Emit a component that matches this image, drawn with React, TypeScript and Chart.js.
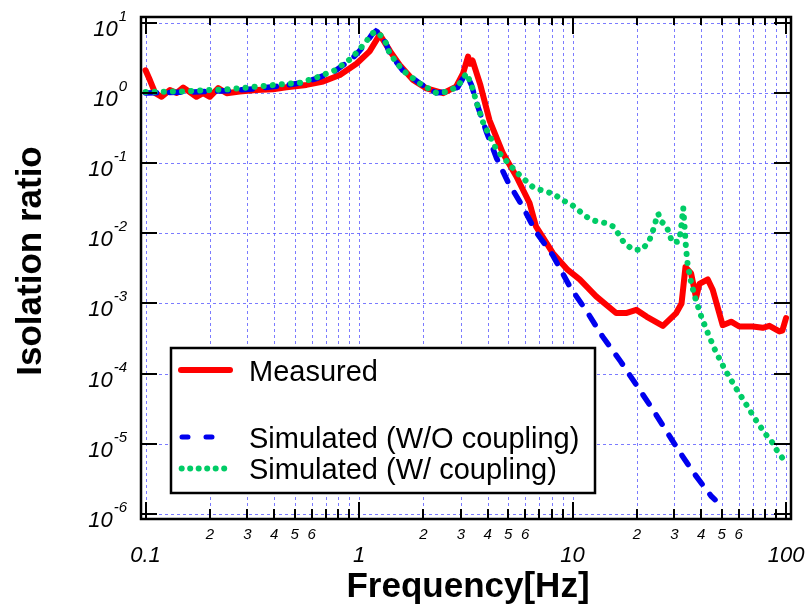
import React, { useEffect, useRef } from "react";
import { Chart, registerables } from "chart.js";

Chart.register(...registerables);

// ---- Data ----
const MEAS_FREQ = [0.1, 0.105, 0.111, 0.119, 0.13, 0.14, 0.15, 0.161, 0.173, 0.186, 0.2, 0.219, 0.24, 0.276, 0.331, 0.396, 0.457, 0.567, 0.679, 0.813, 0.972, 1.12, 1.2, 1.25, 1.3, 1.4, 1.55, 1.79, 2.07, 2.48, 2.85, 3.07, 3.24, 3.3, 3.4, 3.5, 3.7, 4.08, 4.72, 5.45, 6.29, 6.75, 8.09, 9.5, 10.8, 12.9, 16.0, 17.8, 19.9, 22.2, 26.5, 30.6, 32.4, 33.8, 35.9, 37.9, 39.3, 43.0, 45.4, 50.5, 55.3, 60.4, 69.8, 77.8, 83.6, 93.1, 96.1, 100];
const MEAS_VAL = [2.1, 1.5, 0.99, 0.88, 1.1, 1.0, 1.19, 1.03, 0.88, 0.99, 0.88, 1.17, 0.99, 1.05, 1.1, 1.13, 1.2, 1.3, 1.45, 1.8, 2.6, 3.9, 5.5, 6.8, 5.6, 3.9, 2.5, 1.53, 1.16, 0.99, 1.23, 1.9, 3.3, 2.6, 2.9, 2.2, 1.3, 0.41, 0.138, 0.065, 0.027, 0.0124, 0.0052, 0.003, 0.0022, 0.00126, 0.00073, 0.00073, 0.00081, 0.00065, 0.00048, 0.00073, 0.001, 0.0033, 0.0027, 0.0012, 0.0019, 0.0022, 0.00155, 0.00049, 0.00055, 0.00047, 0.00047, 0.00045, 0.00048, 0.0004, 0.00041, 0.00062];

const WO_FREQ = [0.1, 0.15, 0.2, 0.25, 0.33, 0.44, 0.53, 0.63, 0.77, 0.92, 1.0, 1.08, 1.15, 1.2, 1.26, 1.34, 1.39, 1.6, 1.92, 2.3, 2.55, 2.9, 3.1, 3.2, 3.36, 3.6, 3.95, 4.41, 4.98, 5.84, 6.73, 8.06, 9.8, 11.8, 13.8, 16.8, 23.9, 30.6, 36.6, 44.6, 46.5];
const WO_VAL = [1.0, 1.02, 1.05, 1.08, 1.15, 1.27, 1.38, 1.6, 2.05, 3.0, 3.9, 5.2, 6.8, 7.6, 7.0, 5.0, 3.7, 2.1, 1.37, 1.0, 1.03, 1.2, 1.7, 1.8, 1.3, 0.64, 0.28, 0.117, 0.054, 0.024, 0.0105, 0.0049, 0.00166, 0.00073, 0.00034, 0.000149, 3.0e-5, 9.1e-6, 4.0e-6, 1.8e-6, 1.6e-6];

const W_FREQ = [0.1, 0.15, 0.2, 0.25, 0.33, 0.44, 0.53, 0.63, 0.77, 0.92, 1.0, 1.08, 1.15, 1.2, 1.26, 1.34, 1.39, 1.6, 1.92, 2.3, 2.55, 2.9, 3.1, 3.2, 3.4, 3.6, 3.82, 4.41, 5.17, 5.63, 6.6, 7.4, 8.2, 8.9, 10.0, 11.0, 12.0, 13.1, 14.3, 15.6, 17.5, 19.3, 21.1, 22.8, 24.3, 24.7, 25.2, 26.1, 27.5, 28.5, 29.3, 31.3, 32.0, 32.5, 33.0, 33.6, 34.0, 34.6, 35.9, 37.7, 40.1, 43.0, 46.6, 51.3, 57.2, 64.2, 72.1, 79.8, 85.8, 91.0, 97.2, 100];
const W_VAL = [1.03, 1.05, 1.1, 1.13, 1.23, 1.33, 1.4, 1.65, 2.1, 3.1, 4.1, 5.4, 7.0, 7.5, 6.6, 5.1, 3.66, 2.1, 1.37, 1.0, 1.03, 1.23, 1.7, 1.9, 1.16, 0.64, 0.37, 0.154, 0.089, 0.068, 0.044, 0.04, 0.036, 0.03, 0.025, 0.0197, 0.016, 0.0146, 0.014, 0.0124, 0.0072, 0.0058, 0.0058, 0.0076, 0.013, 0.0167, 0.019, 0.0146, 0.0128, 0.0095, 0.0074, 0.0076, 0.01, 0.015, 0.023, 0.0105, 0.0061, 0.0036, 0.002, 0.00115, 0.00065, 0.00038, 0.000214, 0.00012, 6.8e-5, 3.9e-5, 2.2e-5, 1.4e-5, 1.07e-5, 7.9e-6, 6.0e-6, 5.4e-6];

const SERIES_LABELS = ["Measured", "Simulated (W/O coupling)", "Simulated (W/ coupling)"];
const X_MAJOR = [0.1, 1, 10, 100];
const X_MAJOR_LABELS = ["0.1", "1", "10", "100"];
const X_MINOR_MULT = [2, 3, 4, 5, 6, 7, 8, 9];
const X_MINOR_LABELED = [2, 3, 4, 5, 6];
const Y_EXPONENTS = [1, 0, -1, -2, -3, -4, -5, -6];
const X_TITLE = "Frequency[Hz]";
const Y_TITLE = "Isolation ratio";

const RED = "#ff0000";
const BLUE = "#0000ee";
const GREEN = "#00cc66";
const GRID = "rgba(100,100,255,0.85)";
const FONT = "'Liberation Sans', Arial, Helvetica, sans-serif";

const pts = (xs: number[], ys: number[]) => xs.map((x, i) => ({ x, y: ys[i] }));

const decorPlugin = {
  id: "decor",
  beforeDatasetsDraw(chart: any) {
    const ctx = chart.ctx;
    const xs = chart.scales.x;
    const ys = chart.scales.y;
    const { left, right, top, bottom } = chart.chartArea;
    ctx.save();
    ctx.strokeStyle = GRID;
    ctx.lineWidth = 1;
    ctx.setLineDash([3, 3]);
    const xVals: number[] = [];
    X_MAJOR.forEach((d, i) => {
      xVals.push(d);
      if (i < X_MAJOR.length - 1) X_MINOR_MULT.forEach((m) => xVals.push(d * m));
    });
    xVals.forEach((v) => {
      const px = Math.round(xs.getPixelForValue(v)) + 0.5;
      ctx.beginPath();
      ctx.moveTo(px, top);
      ctx.lineTo(px, bottom);
      ctx.stroke();
    });
    Y_EXPONENTS.forEach((e) => {
      const py = Math.round(ys.getPixelForValue(Math.pow(10, e))) + 0.5;
      ctx.beginPath();
      ctx.moveTo(left, py);
      ctx.lineTo(right, py);
      ctx.stroke();
    });
    ctx.restore();
  },
  afterDatasetsDraw(chart: any) {
    const ctx = chart.ctx;
    const xs = chart.scales.x;
    const ys = chart.scales.y;
    const { left, right, top, bottom } = chart.chartArea;
    ctx.save();
    ctx.setLineDash([]);
    // frame
    ctx.strokeStyle = "#000";
    ctx.lineWidth = 2.5;
    ctx.strokeRect(left, top, right - left, bottom - top);
    // ticks
    ctx.lineWidth = 2;
    const vline = (x: number, y1: number, y2: number) => {
      ctx.beginPath();
      ctx.moveTo(x, y1);
      ctx.lineTo(x, y2);
      ctx.stroke();
    };
    const hline = (y: number, x1: number, x2: number) => {
      ctx.beginPath();
      ctx.moveTo(x1, y);
      ctx.lineTo(x2, y);
      ctx.stroke();
    };
    X_MAJOR.forEach((d, i) => {
      const px = Math.round(xs.getPixelForValue(d));
      vline(px, bottom, bottom - 17);
      vline(px, top, top + 17);
      if (i < X_MAJOR.length - 1) {
        X_MINOR_MULT.forEach((m) => {
          const p = Math.round(xs.getPixelForValue(d * m));
          vline(p, bottom, bottom - 10);
          vline(p, top, top + 8);
        });
      }
    });
    Y_EXPONENTS.forEach((e) => {
      const py = Math.round(ys.getPixelForValue(Math.pow(10, e)));
      hline(py, left, left + 16);
      hline(py, right, right - 17);
    });
    // x tick labels
    ctx.fillStyle = "#000";
    ctx.textAlign = "center";
    ctx.textBaseline = "alphabetic";
    ctx.font = `italic 22px ${FONT}`;
    X_MAJOR.forEach((d, i) => {
      ctx.fillText(X_MAJOR_LABELS[i], xs.getPixelForValue(d), 562);
    });
    ctx.font = `italic 15px ${FONT}`;
    X_MAJOR.forEach((d, i) => {
      if (i < X_MAJOR.length - 1) {
        X_MINOR_LABELED.forEach((m) => {
          ctx.fillText(String(m), xs.getPixelForValue(d * m), 539);
        });
      }
    });
    // y tick labels: 10^e
    Y_EXPONENTS.forEach((e) => {
      const py = ys.getPixelForValue(Math.pow(10, e));
      const exp = String(e);
      ctx.font = `italic 15px ${FONT}`;
      const ew = ctx.measureText(exp).width;
      ctx.font = `italic 22px ${FONT}`;
      const bw = ctx.measureText("10").width;
      const rightEdge = 126;
      const x0 = rightEdge - ew - bw;
      ctx.textAlign = "left";
      ctx.fillText("10", x0, py + 13);
      ctx.font = `italic 15px ${FONT}`;
      ctx.fillText(exp, x0 + bw + 1, py - 2);
    });
    // axis titles
    ctx.textAlign = "center";
    ctx.font = `bold 35px ${FONT}`;
    ctx.fillText(X_TITLE, (left + right) / 2 + 2, 597);
    ctx.save();
    ctx.translate(41, 261);
    ctx.rotate(-Math.PI / 2);
    ctx.fillText(Y_TITLE, 0, 0);
    ctx.restore();

    // legend
    const lx = 171, ly = 348, lw = 424, lh = 145;
    ctx.fillStyle = "#fff";
    ctx.fillRect(lx, ly, lw, lh);
    ctx.strokeStyle = "#000";
    ctx.lineWidth = 2.5;
    ctx.strokeRect(lx, ly, lw, lh);
    ctx.lineCap = "round";
    ctx.lineWidth = 6;
    ctx.strokeStyle = RED;
    hline(370, 181, 230);
    ctx.lineWidth = 5;
    ctx.strokeStyle = BLUE;
    ctx.setLineDash([6, 18]);
    hline(437, 182, 212);
    ctx.setLineDash([]);
    ctx.fillStyle = GREEN;
    for (let i = 0; i < 6; i++) {
      ctx.beginPath();
      ctx.arc(181.7 + i * 8.5, 468.5, 3, 0, Math.PI * 2);
      ctx.fill();
    }
    ctx.fillStyle = "#000";
    ctx.textAlign = "left";
    ctx.font = `29px ${FONT}`;
    ctx.fillText(SERIES_LABELS[0], 249, 381);
    ctx.fillText(SERIES_LABELS[1], 249, 448);
    ctx.fillText(SERIES_LABELS[2], 249, 479);
    ctx.restore();
  },
};

export default function App() {
  const ref = useRef<HTMLCanvasElement | null>(null);
  useEffect(() => {
    if (!ref.current) return;
    const chart = new Chart(ref.current, {
      type: "line",
      data: {
        datasets: [
          {
            label: SERIES_LABELS[0],
            data: pts(MEAS_FREQ, MEAS_VAL),
            borderColor: RED,
            backgroundColor: RED,
            borderWidth: 6,
            pointRadius: 0,
            tension: 0,
            borderJoinStyle: "round",
            borderCapStyle: "round",
            order: 3,
          },
          {
            label: SERIES_LABELS[1],
            data: pts(WO_FREQ, WO_VAL),
            borderColor: BLUE,
            backgroundColor: BLUE,
            borderWidth: 5.5,
            borderDash: [11, 13],
            borderCapStyle: "round",
            pointRadius: 0,
            tension: 0,
            order: 2,
          },
          {
            label: SERIES_LABELS[2],
            data: pts(W_FREQ, W_VAL),
            borderColor: GREEN,
            backgroundColor: GREEN,
            borderWidth: 6,
            borderDash: [0.1, 9],
            borderCapStyle: "round",
            pointRadius: 0,
            tension: 0,
            order: 1,
          },
        ] as any,
      },
      options: {
        responsive: false,
        animation: false,
        parsing: true,
        layout: { padding: { left: 141, top: 17, right: 19, bottom: 88 } },
        plugins: { legend: { display: false }, tooltip: { enabled: false } },
        scales: {
          x: { type: "logarithmic", min: 0.0952, max: 105.5, display: false },
          y: { type: "logarithmic", min: 8.49e-7, max: 12.06, display: false },
        },
      } as any,
      plugins: [decorPlugin],
    });
    return () => chart.destroy();
  }, []);
  return (
    <div style={{ position: "fixed", left: 0, top: 0, width: 810, height: 607, background: "#fff" }}>
      <canvas ref={ref} width={810} height={607} style={{ width: 810, height: 607, display: "block" }} />
    </div>
  );
}
